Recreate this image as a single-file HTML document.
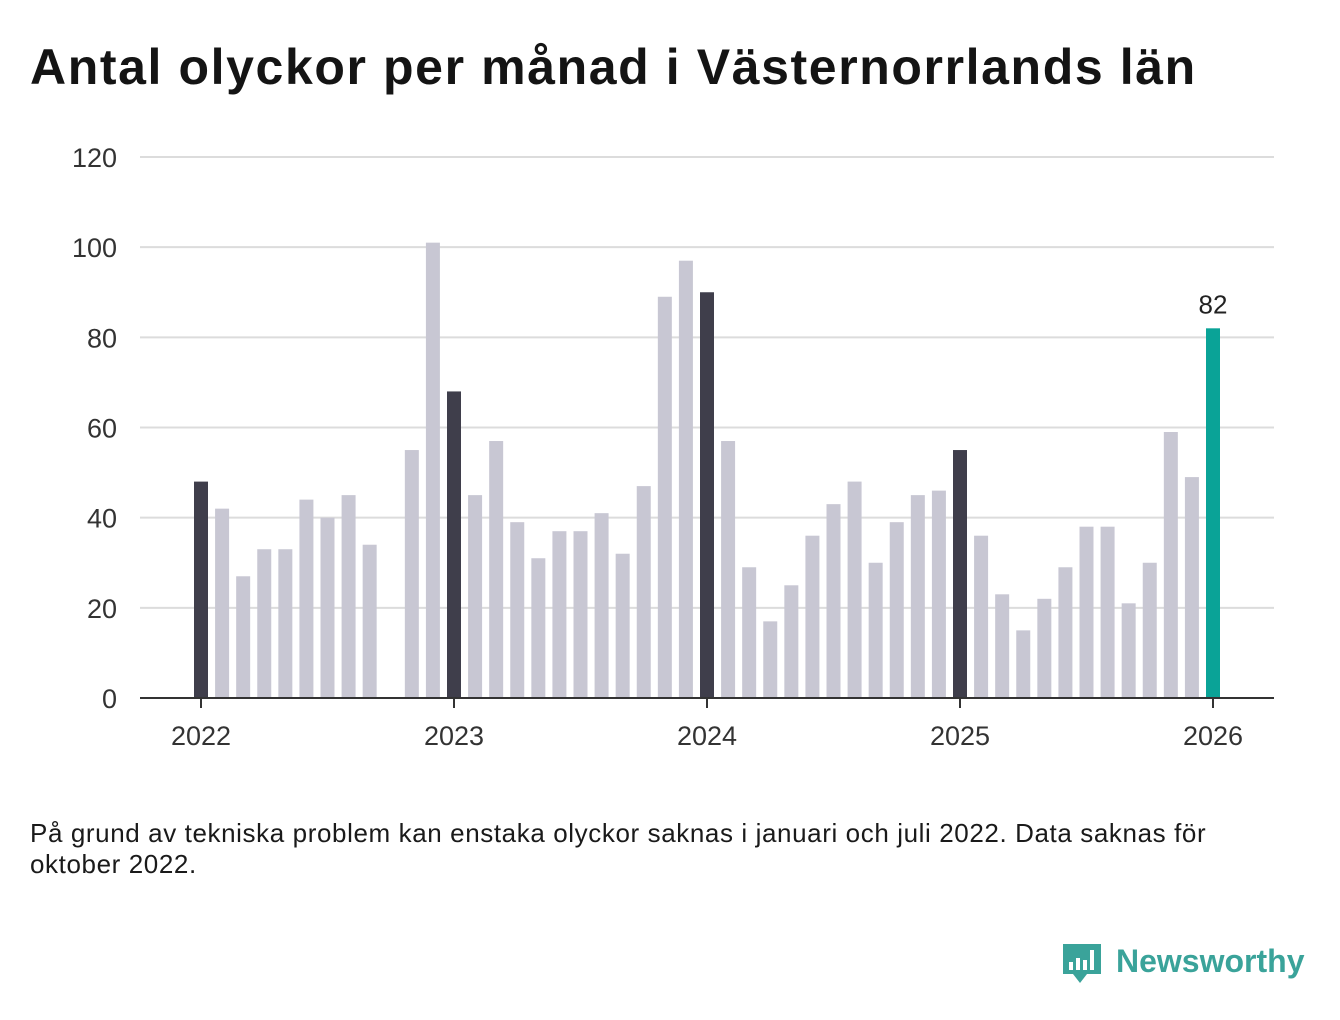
<!DOCTYPE html>
<html><head><meta charset="utf-8"><style>
body{margin:0;background:#fff;font-family:"Liberation Sans",sans-serif;}
#wrap{position:relative;width:1340px;height:1020px;overflow:hidden;background:#fff}
h1{position:absolute;left:30px;top:38px;margin:0;font-size:50px;font-weight:bold;color:#141414;letter-spacing:1.6px;white-space:nowrap}
#note{position:absolute;left:30px;top:818px;width:1225px;font-size:26px;line-height:31px;color:#1a1a1a;letter-spacing:0.6px}
#logo{position:absolute;left:1060px;top:940px}
</style></head><body>
<div id="wrap">
<h1>Antal olyckor per månad i Västernorrlands län</h1>
<svg id="chart" width="1340" height="800" style="position:absolute;left:0;top:0"></svg>
<div id="note">På grund av tekniska problem kan enstaka olyckor saknas i januari och juli 2022. Data saknas för oktober 2022.</div>
<svg id="logo" width="260" height="56">
<path d="M3 4 h38 v30 h-14 l-7 9 l-7 -9 h-10 z" fill="#3aa39a"/>
<rect x="9" y="22" width="4" height="8" fill="#fff"/><rect x="16" y="18" width="4" height="12" fill="#fff"/><rect x="23" y="20" width="4" height="10" fill="#fff"/><rect x="30" y="10" width="4" height="20" fill="#fff"/>
<text x="56" y="32" font-family="Liberation Sans,sans-serif" font-size="32" font-weight="bold" fill="#3aa39a">Newsworthy</text>
</svg>
</div>
<script>
const months=["2022-01","2022-02","2022-03","2022-04","2022-05","2022-06","2022-07","2022-08","2022-09","2022-10","2022-11","2022-12",
"2023-01","2023-02","2023-03","2023-04","2023-05","2023-06","2023-07","2023-08","2023-09","2023-10","2023-11","2023-12",
"2024-01","2024-02","2024-03","2024-04","2024-05","2024-06","2024-07","2024-08","2024-09","2024-10","2024-11","2024-12",
"2025-01","2025-02","2025-03","2025-04","2025-05","2025-06","2025-07","2025-08","2025-09","2025-10","2025-11","2025-12","2026-01"];
const values=[48,42,27,33,33,44,40,45,34,null,55,101,
68,45,57,39,31,37,37,41,32,47,89,97,
90,57,29,17,25,36,43,48,30,39,45,46,
55,36,23,15,22,29,38,38,21,30,59,49,82];
const yTicks=[0,20,40,60,80,100,120];
const xTicks=["2022","2023","2024","2025","2026"];
const NS="http://www.w3.org/2000/svg";
const svg=document.getElementById('chart');
const y0=698,yTop=157,yMax=120;
const x0=201,step=253/12;
function y(v){return y0-(v/yMax)*(y0-yTop);}
function x(i){return x0+i*step;}
function mk(t,a){const e=document.createElementNS(NS,t);for(const k in a)e.setAttribute(k,a[k]);svg.appendChild(e);return e;}
yTicks.forEach(t=>{
  if(t>0){const g=mk('line',{x1:140,x2:1274,y1:y(t),y2:y(t),stroke:'#dcdcdc','stroke-width':2});
  
  }
  const l=mk('text',{x:117,y:y(t)+10,'text-anchor':'end','font-size':27,fill:'#333','font-family':'Liberation Sans,sans-serif'});
  l.textContent=t;
  
  
});
values.forEach((v,i)=>{
  if(v==null)return;
  const last=i===values.length-1, jan=months[i].endsWith('-01');
  const r=mk('rect',{x:x(i)-7,y:y(v),width:14,height:y0-y(v),fill:last?'#0aa397':(jan?'#3f3e4b':'#c8c7d3')});
  
  
  if(last){const t=mk('text',{x:x(i),y:y(v)-15,'text-anchor':'middle','font-size':26,fill:'#222','font-family':'Liberation Sans,sans-serif'});
  t.textContent=v;
  
  }
});
const ax=mk('line',{x1:140,x2:1274,y1:y0,y2:y0,stroke:'#333','stroke-width':2});


xTicks.forEach((t,k)=>{
  const xx=x(k*12);
  const tk=mk('line',{x1:xx,x2:xx,y1:y0,y2:y0+10,stroke:'#333','stroke-width':2});
  
  
  const l=mk('text',{x:xx,y:y0+47,'text-anchor':'middle','font-size':27,fill:'#333','font-family':'Liberation Sans,sans-serif'});
  l.textContent=t;
  
  
});
</script>
</body></html>
